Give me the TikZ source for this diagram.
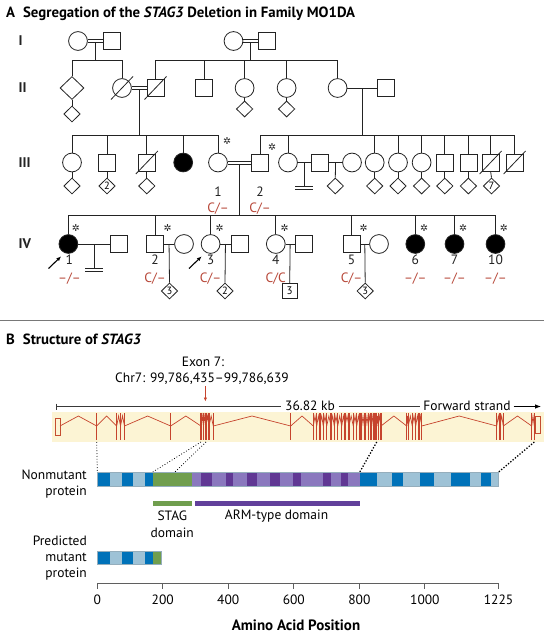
\documentclass[tikz,border=0pt]{standalone}
\usepackage{fontspec}
\setmainfont{PT Sans}
\newfontfamily\djv{DejaVu Sans}
\usetikzlibrary{shapes.geometric,calc,arrows.meta}
\definecolor{pedc}{RGB}{35,35,35}
\definecolor{redt}{RGB}{183,70,55}
\definecolor{exred}{RGB}{198,68,45}
\definecolor{beige}{RGB}{252,244,212}
\definecolor{dblue}{RGB}{0,114,185}
\definecolor{lblue}{RGB}{158,194,214}
\definecolor{sgreen}{RGB}{112,158,78}
\definecolor{dpurp}{RGB}{96,56,148}
\definecolor{lpurp}{RGB}{138,120,190}
\definecolor{barpurp}{RGB}{98,64,155}
\definecolor{axisg}{RGB}{95,95,95}
\definecolor{sepg}{RGB}{120,120,120}
\newcommand\pedslash[1]{\draw[pl] ($(#1)+(-11,11.5)$) -- ($(#1)+(11,-11.5)$);}
\newcommand\consline[2]{%
  \draw[pl] ([yshift=1.6pt]#1.east) -- ([yshift=1.6pt]#2.west);
  \draw[pl] ([yshift=-1.6pt]#1.east) -- ([yshift=-1.6pt]#2.west);}
\begin{document}
\begin{tikzpicture}[x=1pt,y=-1pt,
  pl/.style={draw=pedc,line width=0.8pt},
  fem/.style={circle,draw=pedc,line width=0.8pt,minimum size=18.8pt,inner sep=0pt,fill=white},
  mal/.style={rectangle,draw=pedc,line width=0.8pt,minimum size=17pt,inner sep=0pt,fill=white},
  unk/.style={diamond,draw=pedc,line width=0.8pt,minimum width=24pt,minimum height=23pt,inner sep=0pt,fill=white},
  sunk/.style={diamond,draw=pedc,line width=0.8pt,minimum width=16.5pt,minimum height=16pt,inner sep=0pt,fill=white,font=\fontsize{10.5}{10.5}\selectfont},
  smal/.style={rectangle,draw=pedc,line width=0.8pt,minimum size=15pt,inner sep=0pt,fill=white,font=\fontsize{11}{11}\selectfont},
  aff/.style={fill=black},
  genlab/.style={font=\fontsize{14}{16}\bfseries\selectfont,anchor=west,text=pedc,inner sep=0pt},
  num/.style={font=\fontsize{13.5}{15}\selectfont,text=pedc,inner sep=0pt},
  geno/.style={font=\fontsize{13.5}{15}\selectfont,text=redt,inner sep=0pt},
  starl/.style={font=\djv\fontsize{9.5}{9.5}\selectfont,text=pedc,inner sep=0pt},
  parr/.style={draw=black,line width=1.1pt,-{Latex[length=4.5pt,width=4pt]}},
  ttl/.style={font=\fontsize{14.8}{17}\bfseries\selectfont,anchor=west,inner sep=0pt},
  btxt/.style={font=\fontsize{13.5}{16.5}\selectfont,inner sep=0pt},
  exon/.style={draw=exred,line width=1.2pt},
  intr/.style={draw=exred,line width=0.7pt},
  dotc/.style={draw=black,dotted,line width=0.8pt},
  dotb/.style={draw=black,line width=1.3pt,dash pattern=on 1.3pt off 1.7pt},
]
\useasboundingbox (0,0) rectangle (544,634);
\fill[white] (0,0) rectangle (544,634);

% ---------------- Panel A ----------------
\node[ttl] (tA) at (6,13.5) {A\hspace{8pt}Segregation of the \textit{STAG3} Deletion in Family MO1DA};
\node[genlab] (gI) at (18.5,41) {I};
\node[genlab] (gII) at (18.5,88) {II};
\node[genlab] (gIII) at (18.5,162.5) {III};
\node[genlab] (gIV) at (18.5,244) {IV};

% Generation I
\node[fem] (I1) at (78,41) {};
\node[mal] (I2) at (111.7,41) {};
\node[fem] (I3) at (233.5,41) {};
\node[mal] (I4) at (266.5,41) {};

% Generation II
\node[unk] (II1) at (72,88) {};
\node[sunk] (II1c) at (72,114) {};
\node[fem] (II2) at (122,88) {};
\node[mal] (II3) at (155.5,88) {};
\node[mal] (II4) at (204,88) {};
\node[fem] (II5) at (244.6,88) {};
\node[sunk] (II5c) at (244.6,109) {};
\node[fem] (II6) at (286.6,88) {};
\node[sunk] (II6c) at (286.6,109) {};
\node[fem] (II7) at (337.6,88) {};
\node[mal] (II8) at (385.8,88) {};

% Generation III
\node[fem] (IIIa) at (72,162.5) {};
\node[sunk] (IIIac) at (72,186) {};
\node[mal] (IIIb) at (107,162.5) {};
\node[sunk] (IIIbc) at (107,186) {2};
\node[mal] (IIIc) at (146.8,162.5) {};
\node[sunk] (IIIcc) at (146.8,186) {};
\node[fem,aff] (IIId) at (183.2,162.5) {};
\node[fem] (IIIe) at (218,162.5) {};
\node[mal] (IIIf) at (260,162.5) {};
\node[fem] (IIIg) at (288,162.5) {};
\node[mal] (IIIh) at (320,162.5) {};
\node[fem] (IIIi) at (352,162.5) {};
\node[sunk] (IIIhic) at (335.3,186) {};
\node[fem] (IIIj) at (374.7,162.5) {};
\node[fem] (IIIk) at (398,162.5) {};
\node[fem] (IIIl) at (421.6,162.5) {};
\node[mal] (IIIm) at (444.8,162.5) {};
\node[mal] (IIIn) at (468.4,162.5) {};
\node[mal] (IIIo) at (490.6,162.5) {};
\node[mal] (IIIp) at (514.6,162.5) {};
\foreach \n in {j,k,l,m,n} {\node[sunk] (III\n c) at ($(III\n)+(0,23.5)$) {};}
\node[sunk] (IIIoc) at (491.5,186) {7};

% Generation IV
\node[fem,aff] (IV1) at (68.4,244) {};
\node[mal] (IV1s) at (119,244) {};
\node[mal] (IV2) at (155,244) {};
\node[fem] (IV2s) at (184,244) {};
\node[fem] (IV3) at (210.6,244) {};
\node[mal] (IV3s) at (239.4,244) {};
\node[fem] (IV4) at (275.8,244) {};
\node[mal] (IV4s) at (303.6,244) {};
\node[mal] (IV5) at (351.5,244) {};
\node[fem] (IV5s) at (379,244) {};
\node[fem,aff] (IV6) at (415.3,244) {};
\node[fem,aff] (IV7) at (454.5,244) {};
\node[fem,aff] (IV10) at (495.5,244) {};
\node[sunk] (IV2c) at (169.5,291) {3};
\node[sunk] (IV3c) at (225,291) {2};
\node[smal] (IV4c) at (289.7,291) {3};
\node[sunk] (IV5c) at (365.2,291) {3};

% slashes (deceased)
\pedslash{II2}
\pedslash{II3}
\pedslash{IIIc}
\pedslash{IIIo}
\pedslash{IIIp}

% unions
\consline{I1}{I2}
\consline{I3}{I4}
\consline{II2}{II3}
\consline{IIIe}{IIIf}
\draw[pl] (II7) -- (II8);
\draw[pl] (IIIg) -- (IIIh);
\draw[pl] (IIIh) -- (IIIi);
\draw[pl] (IV1) -- (IV1s);
\draw[pl] (IV2) -- (IV2s);
\draw[pl] (IV3) -- (IV3s);
\draw[pl] (IV4) -- (IV4s);
\draw[pl] (IV5) -- (IV5s);

% union midpoints
\coordinate (mI12) at ($(I1.east)!.5!(I2.west)$);
\coordinate (mI34) at ($(I3.east)!.5!(I4.west)$);
\coordinate (mII23) at ($(II2.east)!.5!(II3.west)$);
\coordinate (mII78) at ($(II7.east)!.5!(II8.west)$);
\coordinate (mIIIef) at ($(IIIe.east)!.5!(IIIf.west)$);
\coordinate (mIIIgh) at ($(IIIg.east)!.5!(IIIh.west)$);
\coordinate (mIIIhi) at ($(IIIh.east)!.5!(IIIi.west)$);
\coordinate (mIV1) at ($(IV1.east)!.5!(IV1s.west)$);
\coordinate (mIV2) at ($(IV2.east)!.5!(IV2s.west)$);
\coordinate (mIV3) at ($(IV3.east)!.5!(IV3s.west)$);
\coordinate (mIV4) at ($(IV4.east)!.5!(IV4s.west)$);
\coordinate (mIV5) at ($(IV5.east)!.5!(IV5s.west)$);

% sibship levels
\coordinate (sI) at (0,60.5);
\coordinate (sII) at (0,135.5);
\coordinate (sIII) at (0,215.5);

% I -> II
\draw[pl] ([yshift=-1.6pt]mI12) -- (mI12 |- sI);
\draw[pl] (II1.north) -- (II1.north |- sI) -- (II2.north |- sI) -- (II2.north);
\draw[pl] ([yshift=-1.6pt]mI34) -- (mI34 |- sI);
\draw[pl] (II3.north) -- (II3.north |- sI) -- (II7.north |- sI) -- (II7.north);
\foreach \n in {II4,II5,II6} {\draw[pl] (\n.north) -- (\n.north |- sI);}
\draw[pl] (II1.south) -- (II1c.north);
\draw[pl] (II5.south) -- (II5c.north);
\draw[pl] (II6.south) -- (II6c.north);

% II -> III
\draw[pl] ([yshift=-1.6pt]mII23) -- (mII23 |- sII);
\draw[pl] (mII78) -- (mII78 |- sII);
\draw[pl] (IIIa.north) -- (IIIa.north |- sII) -- (IIIe.north |- sII) -- (IIIe.north);
\foreach \n in {IIIb,IIIc,IIId} {\draw[pl] (\n.north) -- (\n.north |- sII);}
\draw[pl] (IIIf.north) -- (IIIf.north |- sII) -- (IIIp.north |- sII) -- (IIIp.north);
\foreach \n in {IIIg,IIIj,IIIk,IIIl,IIIm,IIIn,IIIo} {\draw[pl] (\n.north) -- (\n.north |- sII);}
\foreach \n in {a,b,c,j,k,l,m,n,o} {\draw[pl] (III\n.south) -- (III\n c.north);}
% III offspring
\coordinate (inf3) at ($(mIIIgh)+(0,23.5)$);
\draw[pl] (mIIIgh) -- (inf3);
\draw[pl] ([xshift=-9pt]inf3) -- ([xshift=9pt]inf3);
\draw[pl] ([xshift=-9pt,yshift=-3pt]inf3) -- ([xshift=9pt,yshift=-3pt]inf3);
\draw[pl] (mIIIhi) -- (IIIhic.north);

% III -> IV
\draw[pl] ([yshift=-1.6pt]mIIIef) -- (mIIIef |- sIII);
\draw[pl] (IV1.north) -- (IV1.north |- sIII) -- (IV10.north |- sIII) -- (IV10.north);
\foreach \n in {IV2,IV3,IV4,IV5,IV6,IV7} {\draw[pl] (\n.north) -- (\n.north |- sIII);}
\coordinate (inf4) at ($(mIV1)+(0,24.5)$);
\draw[pl] (mIV1) -- (inf4);
\draw[pl] ([xshift=-8.7pt]inf4) -- ([xshift=8.7pt]inf4);
\draw[pl] ([xshift=-8.7pt,yshift=-2.8pt]inf4) -- ([xshift=8.7pt,yshift=-2.8pt]inf4);
\draw[pl] (mIV2) -- (IV2c.north);
\draw[pl] (mIV3) -- (IV3c.north);
\draw[pl] (mIV4) -- (IV4c.north);
\draw[pl] (mIV5) -- (IV5c.north);

% stars
\node[starl] (st1) at (227,141) {✲};
\node[starl] (st2) at (272,147.5) {✲};
\foreach \i/\x in {1/75.8,2/167.6,3/219.5,4/284.5,5/363.6,6/424,7/463,10/503.8} {\node[starl] (sIV\i) at (\x,228.5) {✲};}

% numbers and genotypes
\node[num] (n31) at (218,192) {1};
\node[num] (n32) at (260,192) {2};
\node[geno] (g31) at (218,209) {C/–};
\node[geno] (g32) at (260,209) {C/–};
\foreach \i/\x/\g in {1/69.4/{–/–},2/155/{C/–},3/210.6/{C/–},4/275.8/{C/C},5/351.5/{C/–},6/415.3/{–/–},7/454.5/{–/–},10/495.5/{–/–}} {
  \node[num] (nIV\i) at (\x,260) {\i};
  \node[geno] (gIV\i) at (\x,278.3) {\g};
}

% proband arrows
\coordinate (a1s) at (48.5,268.5);
\coordinate (a1e) at (61,256.5);
\coordinate (a3s) at (189,268.5);
\coordinate (a3e) at (201.5,256.5);
\draw[parr] (a1s) -- (a1e);
\draw[parr] (a3s) -- (a3e);

% ---------------- Panel B ----------------
\coordinate (sepL) at (0,320);
\coordinate (sepR) at (544,320);
\draw[sepg,line width=0.9pt] (sepL) -- (sepR);
\node[ttl] (tB) at (6,339) {B\hspace{8pt}Structure of \textit{STAG3}};

\node[btxt] (ex1) at (203,361.7) {Exon 7:};
\node[btxt] (ex2) at (202,378.3) {Chr7: 99,786,435–99,786,639};
\coordinate (e7a) at (205.4,386);
\coordinate (e7b) at (205.4,401.5);
\draw[draw=exred,line width=0.9pt,-{Latex[length=4pt,width=3.5pt]}] (e7a) -- (e7b);

% scale line
\coordinate (scL) at (56.6,406.5);
\coordinate (scR) at (541,406.5);
\node[btxt,inner xsep=3.5pt] (kb) at (310,406) {36.82 kb};
\node[btxt,inner xsep=3pt] (fs) at (467,406) {Forward strand};
\draw[axisg!60!black,line width=0.8pt] (scL) -- (kb.west |- scL);
\draw[axisg!60!black,line width=0.8pt] ([yshift=3pt]scL) -- ([yshift=-3pt]scL);
\draw[axisg!60!black,line width=0.8pt] (kb.east |- scL) -- (fs.west |- scL);
\draw[black,line width=0.8pt,-{Latex[length=6pt,width=4.5pt]}] (fs.east |- scL) -- (scR);

% gene band
\fill[beige] (52,412) rectangle (544,442);
\draw[exred!85!brown,line width=0.6pt] (55.7,418) rectangle (60,435);
\draw[exred!85!brown,line width=0.6pt] (535.7,416.7) rectangle (540,433.3);
\foreach \x [remember=\x as \lx (initially 60)] in {96.7,116.7,120.5,124.5,170.7,201,203.5,206,209,213.3,290.7,313.3,316.7,320,323.3,326.7,331,334.3,337.7,341.7,345,349,353.3,356.7,360,361.7,364.3,365.7,368.3,371,373.3,375,376.7,378.3,381,406.7,408.3,412.3,415.7,419,421.7,496.7,500,503.3,531.7,534.3} {
  \draw[intr] (\lx,426) -- ({(\lx+\x)/2},416) -- (\x,426);
  \draw[exon] (\x,413) -- (\x,440);
}

% dotted connectors gene -> protein
\coordinate (gd1) at (96.7,442);  \coordinate (pd1) at (97.3,472);
\coordinate (gd2) at (201,442);   \coordinate (pd2) at (152.7,472);
\coordinate (gd3) at (206,442);   \coordinate (pd3) at (175,472);
\coordinate (gd4) at (376.7,442); \coordinate (pd4) at (359.8,472);
\coordinate (gd5) at (534.3,442); \coordinate (pd5) at (498.6,472);
\draw[dotc] (gd1) -- (pd1);
\draw[dotc] (gd2) -- (pd2);
\draw[dotc] (gd3) -- (pd3);
\draw[dotb] (gd4) -- (pd4);
\draw[dotb] (gd5) -- (pd5);

% nonmutant protein
\foreach \a/\b/\c in {97.3/110/dblue,110/121.7/lblue,121.7/132.7/dblue,132.7/145/lblue,145/152.7/dblue,152.7/191.7/sgreen,191.7/200.5/lpurp,200.5/212.4/dpurp,212.4/225.5/lpurp,225.5/233/dpurp,233/246.5/lpurp,246.5/257/dpurp,257/270/lpurp,270/279.5/dpurp,279.5/292.5/lpurp,292.5/301/dpurp,301/322.5/lpurp,322.5/330.5/dpurp,330.5/340.5/lpurp,340.5/348.3/dpurp,348.3/360/lpurp,360/377.4/dblue,377.4/392/lblue,392/403.4/dblue,403.4/420/lblue,420/434/dblue,434/451/lblue,451/470/dblue,470/480.8/lblue,480.8/490.5/dblue,490.5/497.6/lblue,497.6/498.6/dblue} {
  \fill[\c] (\a,472) rectangle (\b,486.5);
}
\draw[lblue!70!gray,line width=0.5pt] (97.3,472) rectangle (498.6,486.5);
\node[btxt,anchor=east,align=right] (lnm) at (87,484) {Nonmutant\\protein};

% domains
\fill[sgreen] (152.7,501) rectangle (191.7,505.7);
\fill[barpurp] (195,501) rectangle (360,505.7);
\node[btxt,align=center] (dS) at (172.3,524.5) {STAG\\domain};
\node[btxt] (dA) at (276.5,516.5) {ARM-type domain};

% mutant protein
\foreach \a/\b/\c in {97.3/110/dblue,110/121.7/lblue,121.7/132.7/dblue,132.7/145/lblue,145/152.7/dblue,152.7/161.7/sgreen} {
  \fill[\c] (\a,551) rectangle (\b,564.5);
}
\draw[lblue!70!gray,line width=0.5pt] (97.3,551) rectangle (161.7,564.5);
\node[btxt,anchor=east,align=right,font=\fontsize{13.5}{16.3}\selectfont] (lmu) at (87,558) {Predicted\\mutant\\protein};

% axis
\coordinate (axL) at (97.2,583);
\coordinate (axR) at (498.6,583);
\draw[axisg,line width=0.9pt] (axL) -- (axR);
\foreach \v in {0,200,400,600,800,1000,1225} {
  \draw[axisg,line width=0.9pt] ({97.2+\v*0.32766},583) -- ({97.2+\v*0.32766},588.5);
  \node[btxt] (t\v) at ({97.2+\v*0.32766},600) {\v};
}
\node[font=\fontsize{15}{17}\bfseries\selectfont,inner sep=0pt] (xt) at (296,625) {Amino Acid Position};
\end{tikzpicture}
\end{document}
